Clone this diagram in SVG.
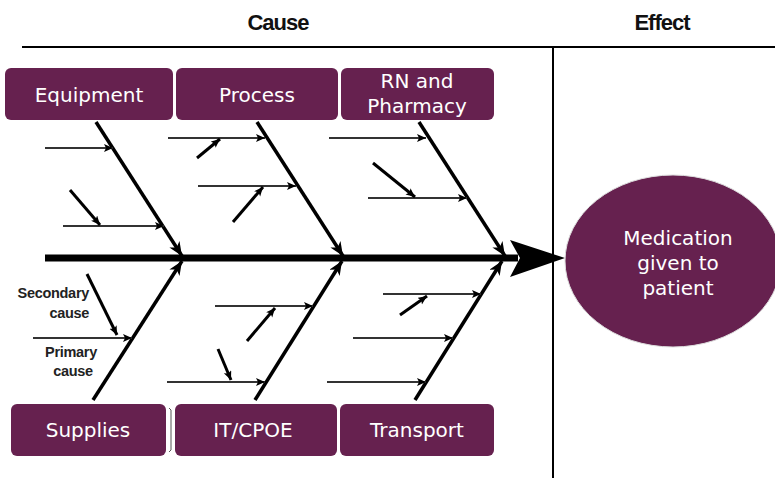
<svg xmlns="http://www.w3.org/2000/svg" width="775" height="478" viewBox="0 0 775 478">
<style>
.box{fill:#66214F;}
.bt{font-family:"DejaVu Sans",sans-serif;font-size:20px;fill:#fff;text-anchor:middle;}
.hd{font-family:"Liberation Sans",Arial,sans-serif;font-size:22px;font-weight:bold;fill:#111;text-anchor:middle;letter-spacing:-1px;}
.lb{font-family:"Liberation Sans",Arial,sans-serif;font-size:14.5px;font-weight:bold;fill:#222;letter-spacing:-0.3px;}
.bone{stroke:#000;stroke-width:3.5;fill:none;marker-end:url(#big);}
.hz{stroke:#333;stroke-width:2;fill:none;marker-end:url(#sm);}
.dg{stroke:#000;stroke-width:3;fill:none;marker-end:url(#sm);}
.frame{stroke:#000;stroke-width:2;fill:none;}
</style>
<defs>
<marker id="big" markerUnits="userSpaceOnUse" markerWidth="16" markerHeight="14" refX="14" refY="6" orient="auto" viewBox="0 0 16 14">
<path d="M0,0 L14,6 L0,12 L4,6 z" fill="#000"/>
</marker>
<marker id="sm" markerUnits="userSpaceOnUse" markerWidth="10" markerHeight="10" refX="9" refY="4" orient="auto" viewBox="0 0 10 10">
<path d="M0,0 L9,4 L0,8 L2,4 z" fill="#000"/>
</marker>
</defs>

<g id="frame">
<line class="frame" x1="22" y1="47" x2="775" y2="47"/>
<line class="frame" x1="553" y1="47" x2="553" y2="478"/>
<text class="hd" x="278" y="30">Cause</text>
<text class="hd" x="662" y="30">Effect</text>
</g>

<g id="connectors">
<!-- spine -->
<line x1="45" y1="258" x2="518" y2="258" stroke="#000" stroke-width="7"/>
<polygon points="510,240 565,258 510,277 520,258" fill="#000"/>
<!-- top bones -->
<line class="bone" x1="96" y1="122" x2="182" y2="256"/>
<line class="bone" x1="257" y1="122" x2="343" y2="256"/>
<line class="bone" x1="419" y1="122" x2="505" y2="256"/>
<!-- bottom bones -->
<line class="bone" x1="93" y1="400" x2="182" y2="261"/>
<line class="bone" x1="255" y1="400" x2="342" y2="261"/>
<line class="bone" x1="415" y1="400" x2="502" y2="261"/>
<!-- Equipment subs -->
<line class="hz" x1="45" y1="148" x2="113" y2="148"/>
<line class="hz" x1="63" y1="226" x2="164" y2="226"/>
<line class="dg" x1="70" y1="190" x2="100" y2="225"/>
<!-- Process subs -->
<line class="hz" x1="168" y1="138" x2="265" y2="138"/>
<line class="dg" x1="197" y1="158" x2="220" y2="139"/>
<line class="hz" x1="198" y1="186" x2="296" y2="186"/>
<line class="dg" x1="233" y1="222" x2="263" y2="187"/>
<!-- RN subs -->
<line class="hz" x1="329" y1="138" x2="426" y2="138"/>
<line class="hz" x1="368" y1="198" x2="467" y2="198"/>
<line class="dg" x1="373" y1="163" x2="415" y2="197"/>
<!-- Supplies subs -->
<line class="hz" x1="33" y1="338" x2="132" y2="338"/>
<line class="dg" x1="87" y1="274" x2="117" y2="335"/>
<!-- IT/CPOE subs -->
<line class="hz" x1="215" y1="306" x2="313" y2="306"/>
<line class="dg" x1="247" y1="341" x2="275" y2="308"/>
<line class="hz" x1="167" y1="382" x2="265" y2="382"/>
<line class="dg" x1="218" y1="349" x2="231" y2="380"/>
<!-- Transport subs -->
<line class="hz" x1="383" y1="294" x2="481" y2="294"/>
<line class="dg" x1="400" y1="315" x2="427" y2="296"/>
<line class="hz" x1="353" y1="338" x2="453" y2="338"/>
<line class="hz" x1="327" y1="382" x2="426" y2="382"/>
<!-- small bracket -->
<path d="M169,408 L171,410 L171,450 L169,452" stroke="#555" stroke-width="1" fill="none"/>
</g>

<g id="legend">
<text class="lb" x="89" y="298" text-anchor="end">Secondary</text>
<text class="lb" x="89" y="318" text-anchor="end">cause</text>
<text class="lb" x="71" y="357" text-anchor="middle">Primary</text>
<text class="lb" x="73" y="376" text-anchor="middle">cause</text>
</g>

<g id="equipment">
<rect class="box" x="5" y="68" width="168" height="52" rx="6"/>
<text class="bt" x="89" y="102">Equipment</text>
</g>
<g id="process">
<rect class="box" x="176" y="68" width="162" height="52" rx="6"/>
<text class="bt" x="257" y="102">Process</text>
</g>
<g id="rn-pharmacy">
<rect class="box" x="341" y="68" width="153" height="52" rx="6"/>
<text class="bt" x="417" y="88">RN and</text>
<text class="bt" x="417" y="113">Pharmacy</text>
</g>
<g id="supplies">
<rect class="box" x="11" y="404" width="155" height="52" rx="6"/>
<text class="bt" x="88" y="437">Supplies</text>
</g>
<g id="it-cpoe">
<rect class="box" x="175" y="404" width="162" height="52" rx="6"/>
<text class="bt" x="253" y="437">IT/CPOE</text>
</g>
<g id="transport">
<rect class="box" x="340" y="404" width="154" height="52" rx="6"/>
<text class="bt" x="417" y="437">Transport</text>
</g>
<g id="effect">
<ellipse cx="673" cy="261" rx="108" ry="86" fill="#66214F" stroke="#ddd" stroke-width="1"/>
<text class="bt" x="678" y="245">Medication</text>
<text class="bt" x="678" y="270">given to</text>
<text class="bt" x="678" y="295">patient</text>
</g>
</svg>
